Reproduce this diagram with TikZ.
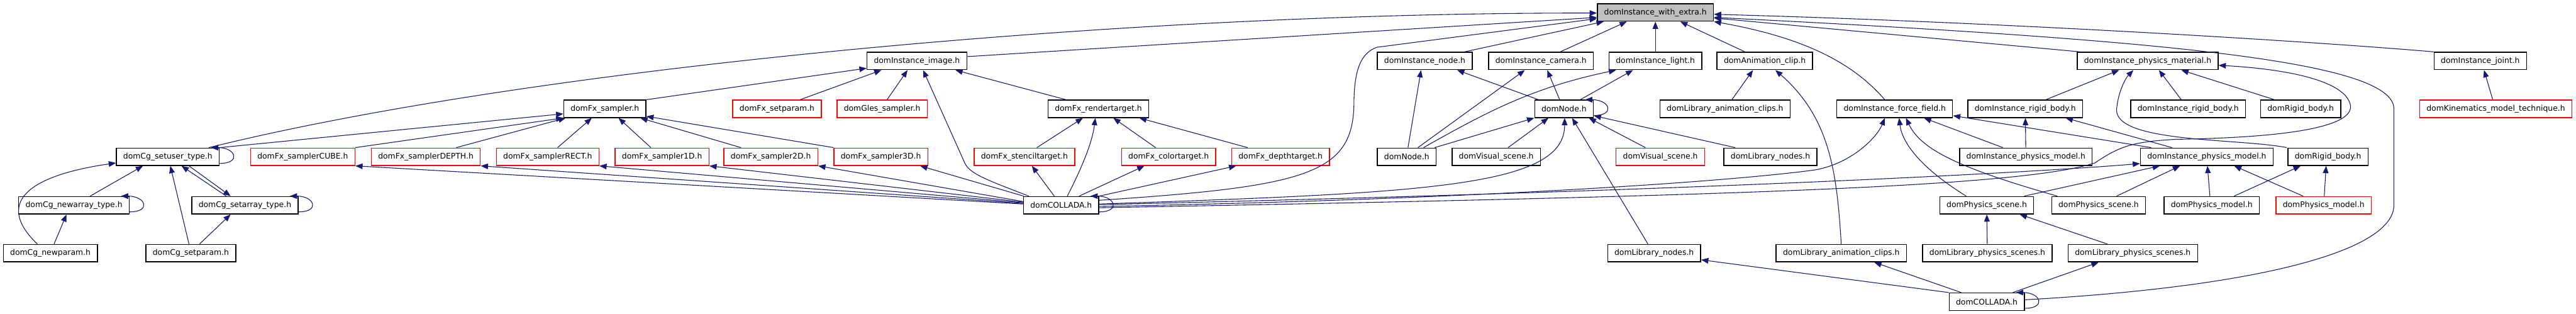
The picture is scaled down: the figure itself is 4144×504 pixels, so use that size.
\documentclass[tikz,border=0pt]{standalone}
\usepackage{fontspec}
\setmainfont{DejaVu Sans}
\usetikzlibrary{arrows.meta,calc}

\definecolor{edgeblue}{HTML}{191970}
\definecolor{nodered}{HTML}{FF0000}
\definecolor{rootgray}{HTML}{BFBFBF}

\begin{document}
\begin{tikzpicture}[
        x=0.3mm, y=-0.3mm,
        font=\fontsize{10.7}{12}\selectfont,
        >={Triangle[length=3.5mm,width=2.7mm]},
        file/.style   ={draw=black, line width=0.42mm, fill=white,
                        minimum height=8.4mm, inner xsep=3.3mm, inner ysep=0mm},
        missing/.style={file, draw=nodered},
        root/.style   ={file, fill=rootgray},
        edge/.style   ={->, draw=edgeblue, line width=0.33mm},
    ]
    \useasboundingbox (0,0) rectangle (4144,504);

    % ===================== Row 0 =====================
    \node[root] (extra) at (2663,20) {domInstance\_with\_extra.h};

    % ===================== Row 1 =====================
    \node[file] (instimage)   at (1475,98) {domInstance\_image.h};
    \node[file] (instnode)    at (2292,98) {domInstance\_node.h};
    \node[file] (instcamera)  at (2479,98) {domInstance\_camera.h};
    \node[file] (instlight)   at (2663,98) {domInstance\_light.h};
    \node[file] (animclip)    at (2839,98) {domAnimation\_clip.h};
    \node[file] (instphysmat) at (3455,98) {domInstance\_physics\_material.h};
    \node[file] (instjoint)   at (3990,98) {domInstance\_joint.h};

    % ===================== Row 2 =====================
    \node[file]    (fxsampler)   at (973,175)  {domFx\_sampler.h};
    \node[missing] (fxsetparam)  at (1250,175) {domFx\_setparam.h};
    \node[missing] (glessampler) at (1419,175) {domGles\_sampler.h};
    \node[file]    (fxrender)    at (1767,175) {domFx\_rendertarget.h};
    \node[file]    (nodeA)       at (2516,175) {domNode.h};
    \node[file]    (libanimA)    at (2775,175) {domLibrary\_animation\_clips.h};
    \node[file]    (instforce)   at (3048,175) {domInstance\_force\_field.h};
    \node[file]    (instrigidA)  at (3258,175) {domInstance\_rigid\_body.h};
    \node[file]    (instrigidB)  at (3520,175) {domInstance\_rigid\_body.h};
    \node[file]    (rigidA)      at (3701,175) {domRigid\_body.h};
    \node[missing] (kinematics)  at (4015,175) {domKinematics\_model\_technique.h};

    % ===================== Row 3 =====================
    \node[file]    (cgsetuser) at (270,252)  {domCg\_setuser\_type.h};
    \node[missing] (cube)      at (487,252)  {domFx\_samplerCUBE.h};
    \node[missing] (depth)     at (685,252)  {domFx\_samplerDEPTH.h};
    \node[missing] (rect)      at (881,252)  {domFx\_samplerRECT.h};
    \node[missing] (sone)      at (1065,252) {domFx\_sampler1D.h};
    \node[missing] (stwo)      at (1240,252) {domFx\_sampler2D.h};
    \node[missing] (sthree)    at (1417,252) {domFx\_sampler3D.h};
    \node[missing] (stencil)   at (1648,252) {domFx\_stenciltarget.h};
    \node[missing] (colortgt)  at (1880,252) {domFx\_colortarget.h};
    \node[missing] (depthtgt)  at (2060,252) {domFx\_depthtarget.h};
    \node[file]    (nodeB)     at (2263,252) {domNode.h};
    \node[file]    (visualA)   at (2407,252) {domVisual\_scene.h};
    \node[missing] (visualB)   at (2671,252) {domVisual\_scene.h};
    \node[file]    (libnodesA) at (2848,252) {domLibrary\_nodes.h};
    \node[file]    (instphysA) at (3259,252) {domInstance\_physics\_model.h};
    \node[file]    (instphysB) at (3550,252) {domInstance\_physics\_model.h};
    \node[file]    (rigidB)    at (3745,252) {domRigid\_body.h};

    % ===================== Row 4 =====================
    \node[file]    (newarray)   at (119,330)  {domCg\_newarray\_type.h};
    \node[file]    (setarray)   at (394,330)  {domCg\_setarray\_type.h};
    \node[file]    (colladaA)   at (1707,330) {domCOLLADA.h};
    \node[file]    (physsceneA) at (3196,330) {domPhysics\_scene.h};
    \node[file]    (physsceneB) at (3376,330) {domPhysics\_scene.h};
    \node[file]    (physmodelA) at (3558,330) {domPhysics\_model.h};
    \node[missing] (physmodelB) at (3738,330) {domPhysics\_model.h};

    % ===================== Row 5 / 6 =====================
    \node[file] (newparam)  at (81,407)   {domCg\_newparam.h};
    \node[file] (setparam)  at (307,407)  {domCg\_setparam.h};
    \node[file] (libnodesB) at (2661,407) {domLibrary\_nodes.h};
    \node[file] (libanimB)  at (2962,407) {domLibrary\_animation\_clips.h};
    \node[file] (libphysA)  at (3197,407) {domLibrary\_physics\_scenes.h};
    \node[file] (libphysB)  at (3431,407) {domLibrary\_physics\_scenes.h};
    \node[file] (colladaB)  at (3196,485) {domCOLLADA.h};

    % ===================== Edges into domInstance_with_extra.h =====================
    \draw[edge] ($(cgsetuser.north)+(66,0)$) .. controls (850,110) and (1800,20) .. ($(extra.west)+(0,1)$);
    \draw[edge] ($(instimage.east)+(0,-7)$) -- ($(extra.west)+(0,8)$);
    \draw[edge] ($(colladaA.east)+(0,-8)$) .. controls (2100,300) and (2175,280) .. (2178,170)
                .. controls (2178,110) and (2190,85) .. (2215,76) -- ($(extra.west)+(0,10)$);
    \draw[edge] ($(instnode.north east)+(-13,0)$) -- ($(extra.south west)+(11,0)$);
    \draw[edge] ($(instcamera.north)+(31,0)$) -- ($(extra.south)+(-46,0)$);
    \draw[edge] (instlight) -- (extra);
    \draw[edge] ($(animclip.north)+(-32,0)$) -- ($(extra.south)+(40,0)$);
    \draw[edge] ($(instforce.north)+(-16,0)$) .. controls (2980,100) and (2900,60) .. (extra.south east);
    \draw[edge] ($(instphysmat.north west)+(5,0)$) -- ($(extra.east)+(0,9)$);
    \draw[edge] (instjoint.north west) .. controls (3700,65) and (3200,35) .. ($(extra.east)+(0,3)$);
    \draw[edge] ($(colladaB.east)+(0,-3)$) .. controls (3650,460) and (3851,400) .. (3851,330)
                -- (3851,175) .. controls (3851,100) and (3500,65) .. ($(extra.east)+(0,8)$);

    % ===================== Instance image, samplers =====================
    \draw[edge] (fxsampler.north east) -- ($(instimage.south west)+(0,-3)$);
    \draw[edge] ($(fxsetparam.north)+(37,0)$) -- ($(instimage.south)+(-57,0)$);
    \draw[edge] ($(glessampler.north)+(8,0)$) -- ($(instimage.south)+(-15,0)$);
    \draw[edge] ($(colladaA.north)+(-52,0)$) .. controls (1590,290) and (1560,280) .. (1552,262)
                -- ($(instimage.south)+(10,0)$);
    \draw[edge] ($(fxrender.north)+(-52,0)$) -- ($(instimage.south east)+(-19,0)$);

    \draw[edge] (cgsetuser.north east) -- ($(fxsampler.west)+(0,8)$);
    \draw[edge] (cube.north east) -- (fxsampler.south west);
    \draw[edge] ($(depth.north)+(49,0)$) -- ($(fxsampler.south west)+(4,0)$);
    \draw[edge] ($(rect.north)+(16,0)$) -- ($(fxsampler.south)+(-21,0)$);
    \draw[edge] ($(sone.north)+(-18,0)$) -- ($(fxsampler.south)+(22,0)$);
    \draw[edge] ($(stwo.north)+(-48,0)$) -- ($(fxsampler.south)+(57,0)$);
    \draw[edge] (sthree.north west) -- ($(fxsampler.east)+(0,12)$);

    \foreach \n/\dy in {cube/-2,depth/-3,rect/-4,sone/-5,stwo/-6}{
        \draw[edge] ($(colladaA.west)+(0,\dy)$) -- (\n.south east);
    }
    \draw[edge] ($(colladaA.north west)+(1,0)$) -- ($(sthree.south east)+(-13,0)$);

    % ===================== Cg types =====================
    \draw[edge] ($(newarray.north)+(26,0)$) -- ($(cgsetuser.south)+(-40,0)$);
    \draw[edge] ($(setparam.north)+(-3,0)$) -- ($(cgsetuser.south)+(4,0)$);
    \draw[edge] ($(setarray.north)+(-30,0)$) -- ($(cgsetuser.south)+(22,0)$);
    \draw[edge] ($(newparam.north)+(-21,0)$) .. controls (-15,320) and (60,280) .. ($(cgsetuser.west)+(0,10)$);
    \draw[edge] ($(cgsetuser.south)+(34,0)$) -- ($(setarray.north)+(-23,0)$);
    \draw[edge] ($(setparam.north)+(14,0)$) -- ($(setarray.south)+(-23,0)$);
    \draw[edge] ($(newparam.north)+(6,0)$) -- ($(newarray.south)+(-12,0)$);

    % ===================== Render targets =====================
    \draw[edge] ($(stencil.north)+(20,0)$) -- ($(fxrender.south)+(-25,0)$);
    \draw[edge] ($(colladaA.north)+(10,0)$) .. controls (1740,270) and (1757,230) .. ($(fxrender.south)+(-5,0)$);
    \draw[edge] ($(colortgt.north)+(-21,0)$) -- ($(fxrender.south)+(24,0)$);
    \draw[edge] ($(depthtgt.north)+(-53,0)$) -- ($(fxrender.south east)+(-16,0)$);
    \draw[edge] ($(colladaA.north)+(-11,0)$) -- ($(stencil.south)+(12,0)$);
    \draw[edge] ($(colladaA.north)+(29,0)$) -- ($(colortgt.south)+(-39,0)$);
    \draw[edge] (colladaA.north east) -- ($(depthtgt.south west)+(8,0)$);

    % ===================== Nodes, lights, cameras =====================
    \draw[edge] ($(nodeB.north)+(2,0)$) -- ($(instnode.south)+(-6,0)$);
    \draw[edge] ($(nodeA.north)+(-41,0)$) -- ($(instnode.south)+(52,0)$);
    \draw[edge] ($(nodeB.north)+(18,0)$) -- ($(instcamera.south)+(-26,0)$);
    \draw[edge] ($(nodeA.north)+(-7,0)$) -- ($(instcamera.south)+(10,0)$);
    \draw[edge] ($(nodeB.north)+(27,0)$) .. controls (2400,175) and (2470,140) .. ($(instlight.south west)+(12,0)$);
    \draw[edge] ($(nodeA.north)+(26,0)$) -- ($(instlight.south)+(-36,0)$);
    \draw[edge] ($(nodeB.north east)+(-3,0)$) -- (nodeA.south west);
    \draw[edge] ($(visualA.north)+(19,0)$) -- ($(nodeA.south)+(-25,0)$);
    \draw[edge] ($(colladaA.east)+(0,-2)$) .. controls (2300,310) and (2517,300) .. ($(nodeA.south)+(1,0)$);
    \draw[edge] ($(libnodesB.north)+(-10,0)$) -- ($(nodeA.south)+(13,0)$);
    \draw[edge] ($(visualB.north)+(-24,0)$) -- ($(nodeA.south east)+(-8,0)$);
    \draw[edge] ($(libnodesA.north west)+(19,0)$) -- ($(nodeA.east)+(0,11)$);

    \draw[edge] ($(libanimA.north)+(11,0)$) -- ($(animclip.south)+(-19,0)$);
    \draw[edge] (libanimB.north) .. controls (2955,280) and (2945,190) .. ($(animclip.south)+(17,0)$);

    % ===================== Physics =====================
    \draw[edge] ($(colladaA.east)+(0,2)$) .. controls (2400,320) and (2800,290) .. (2921,273)
                .. controls (2980,262) and (3020,220) .. ($(instforce.south)+(-16,0)$);
    \draw[edge] ($(physsceneA.north)+(-33,0)$) .. controls (3090,270) and (3060,230) .. ($(instforce.south)+(7,0)$);
    \draw[edge] ($(physsceneB.north west)+(10,0)$) .. controls (3150,270) and (3090,240) .. ($(instforce.south)+(18,0)$);
    \draw[edge] ($(instphysA.north)+(-37,0)$) -- ($(instforce.south)+(47,0)$);
    \draw[edge] ($(instphysB.north west)+(18,0)$) -- ($(instforce.east)+(0,11)$);
    \draw[edge] (instphysA) -- (instrigidA);
    \draw[edge] ($(instphysB.north)+(-56,0)$) -- ($(instrigidA.south)+(65,0)$);

    \draw[edge] ($(instrigidA.north)+(33,0)$) -- ($(instphysmat.south)+(-46,0)$);
    \draw[edge] ($(rigidB.north west)+(-1,0)$) .. controls (3600,222) and (3400,230) .. (3405,175)
                .. controls (3408,145) and (3420,125) .. ($(instphysmat.south)+(-23,0)$);
    \draw[edge] ($(instrigidB.north)+(-11,0)$) -- ($(instphysmat.south)+(18,0)$);
    \draw[edge] ($(rigidA.north)+(-42,0)$) -- ($(instphysmat.south)+(54,0)$);
    \draw[edge] ($(colladaA.east)+(0,4)$) .. controls (2800,315) and (3250,300) .. (3370,262)
                .. controls (3410,235) and (3430,228) .. (3500,224)
                .. controls (3750,220) and (3790,190) .. (3780,165)
                .. controls (3765,125) and (3660,110) .. ($(instphysmat.east)+(0,7)$);

    \draw[edge] ($(colladaA.east)+(0,-1)$) .. controls (2800,305) and (3300,275) .. ($(instphysB.west)+(0,11)$);
    \draw[edge] ($(physsceneA.north east)+(-16,0)$) -- ($(instphysB.south west)+(32,0)$);
    \draw[edge] ($(physsceneB.north)+(29,0)$) -- ($(instphysB.south)+(-43,0)$);
    \draw[edge] ($(physmodelA.north)+(-3,0)$) -- ($(instphysB.south)+(1,0)$);
    \draw[edge] ($(physmodelB.north)+(-33,0)$) -- ($(instphysB.south)+(44,0)$);
    \draw[edge] ($(physmodelA.north)+(36,0)$) -- ($(rigidB.south)+(-44,0)$);
    \draw[edge] ($(physmodelB.north)+(1,0)$) -- ($(rigidB.south)+(-3,0)$);

    \draw[edge] (libphysA) -- (physsceneA);
    \draw[edge] ($(libphysB.north)+(-41,0)$) -- ($(physsceneA.south)+(53,0)$);

    % ===================== Bottom domCOLLADA.h =====================
    \draw[edge] (colladaB.north west) -- ($(libnodesB.south east)+(0,-4)$);
    \draw[edge] ($(colladaB.north)+(-41,0)$) -- ($(libanimB.south)+(53,0)$);
    \draw[edge] ($(colladaB.north)+(42,0)$) -- ($(libphysB.south)+(-55,0)$);

    \draw[edge] ($(kinematics.north)+(-5,0)$) -- ($(instjoint.south)+(6,0)$);

    % self includes
    \foreach \n in {cgsetuser,newarray,setarray,nodeA,colladaA,colladaB}{
        \draw[edge] ($(\n.south east)+(0,-4)$) .. controls +(35,0) and +(40,0) .. ($(\n.north east)+(-14,0)$);
    }
\end{tikzpicture}
\end{document}
